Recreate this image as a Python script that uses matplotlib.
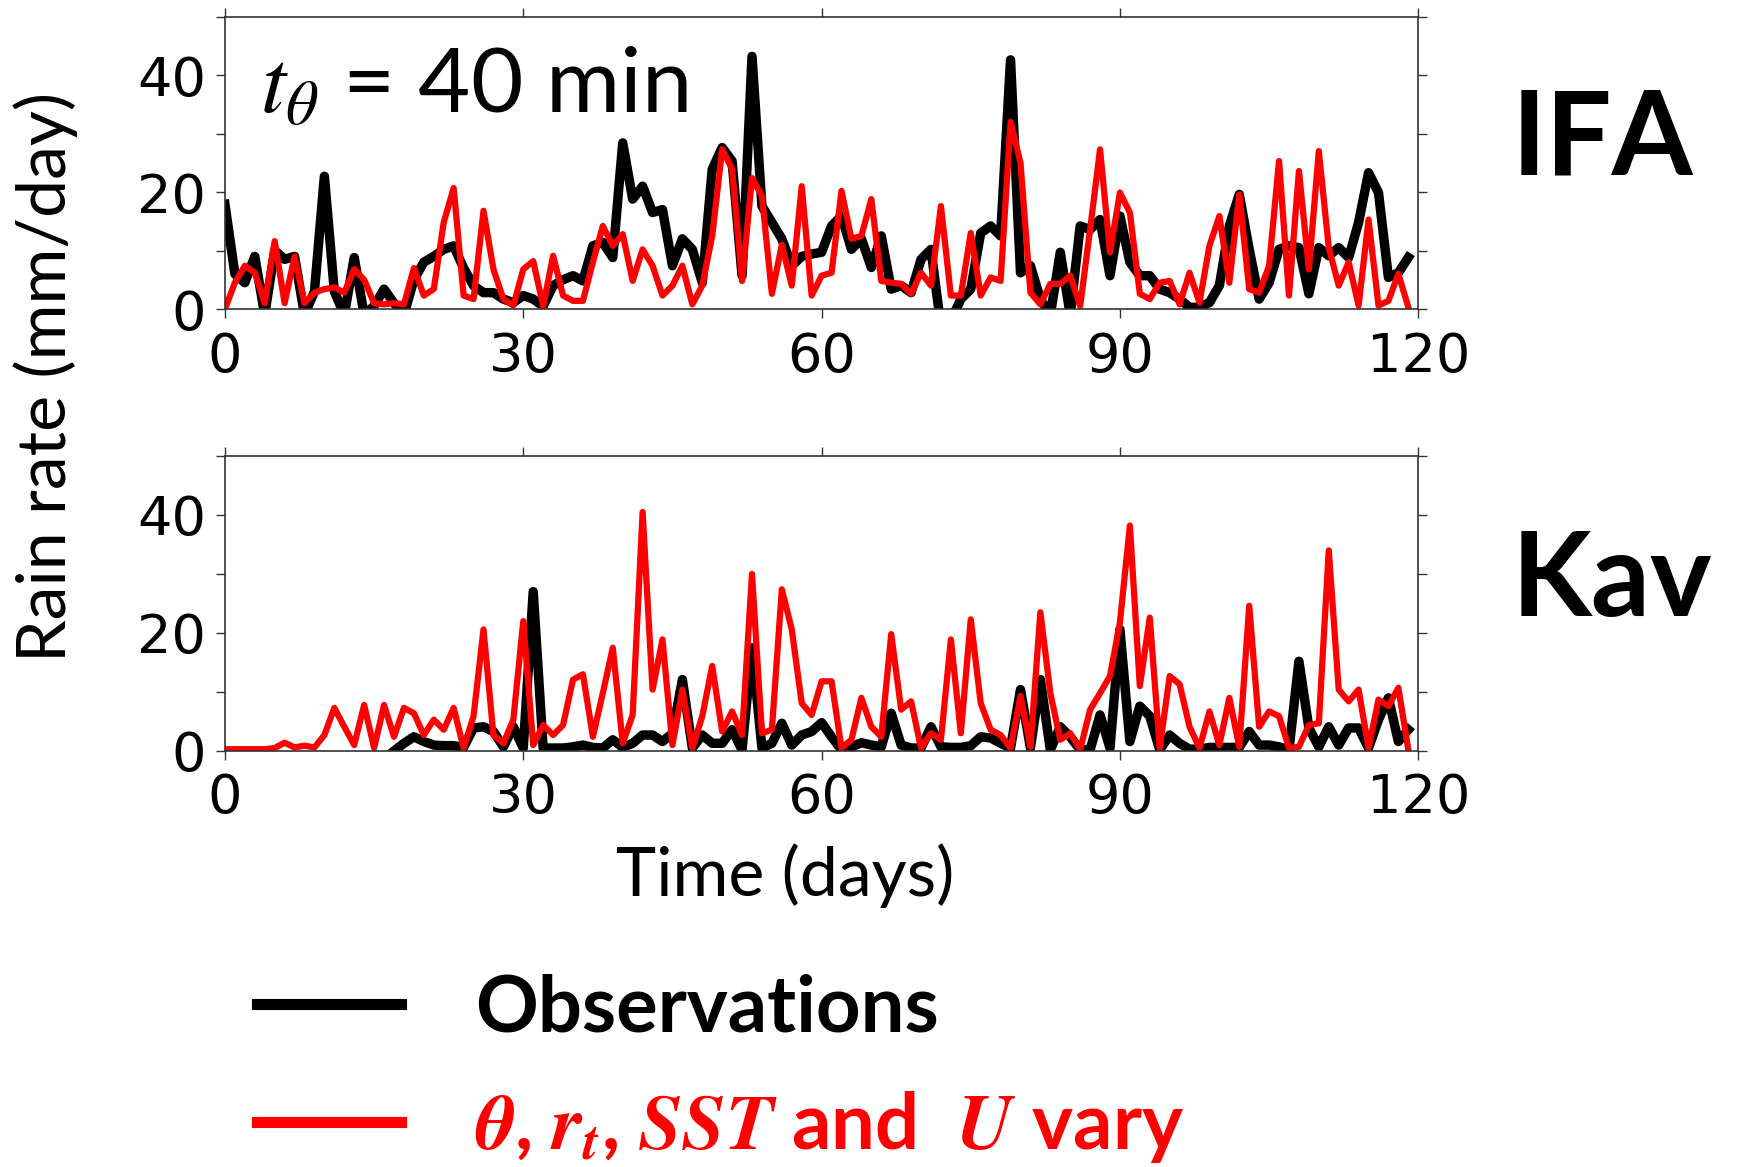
import numpy as np
import matplotlib
matplotlib.use("Agg")
import matplotlib.pyplot as plt
from matplotlib.ticker import MultipleLocator
from matplotlib.lines import Line2D

plt.rcParams['mathtext.fontset'] = 'stix'

# daily rain rate (mm/day), days 0..119
days = np.arange(120)

ifa_obs = [17.9, 6, 4.5, 9, -1, 10, 8.5, 9, -1, 3,
           22.7, 3, -1, 8.8, -1, 0.5, 3.4, 1, -1, 5,
           8, 9, 10.2, 10.8, 7, 4, 2.8, 2.8, 1.7, 1.1,
           2.3, 1.7, 0.5, 4, 5, 5.7, 4.8, 10.8, 11.4, 8.8,
           28.4, 18.8, 21, 16.5, 17, 7.4, 12, 10.2, 4.5, 23.9,
           27.6, 25.3, 5.7, 43.2, 17.6, 14.8, 12, 7.4, 9, 9.4,
           9.7, 14.2, 15.9, 10.2, 12, 7.1, 12.5, 3.4, 4, 2.8,
           8.5, 10.2, -3, -2, 1.7, 3.4, 13, 14.2, 12.5, 42.6,
           6.2, 7.4, 1.7, -1, 9.7, -1, 14.2, 13.6, 15.3, 5.7,
           15.9, 8, 5.7, 5.7, 3.4, 2.8, 1.7, 0.3, 0.3, 1.1,
           4, 14.2, 19.6, 10.2, 1.7, 4.5, 10.2, 10.8, 10.5, 2.6,
           10.5, 9.1, 10.5, 8.8, 14.8, 23.3, 19.9, 5.4, 6.2, 8.8]

ifa_model = [0, 4.5, 7.4, 6.2, 1, 11.6, 1, 9, 1, 2.8,
             3.4, 3.7, 2.8, 6.8, 5, 1, 0.8, 1, 0.8, 7,
             2.3, 3.4, 14.8, 20.7, 2.3, 1.7, 16.8, 6.8, 1.7, 0.6,
             6.8, 8.2, 0.5, 9.1, 2.3, 1.4, 1.4, 8, 14.2, 10.8,
             12.8, 4.8, 10.2, 7.4, 2.3, 4, 7.4, 0.8, 4, 12.5,
             27.3, 23.9, 4.8, 22.4, 19.3, 2.6, 11, 4, 21, 2.3,
             5.7, 6.2, 20.2, 12, 12.5, 18.8, 4.8, 4.5, 4.3, 2.6,
             6.2, 4, 17.6, 2.3, 2.3, 13, 2.3, 5.4, 4.8, 32,
             25, 2.8, 0.8, 4.3, 4.3, 5.7, 0.5, 13.6, 27.3, 9.7,
             19.9, 16.5, 2.6, 1.7, 4.5, 4.8, 0.8, 6.2, 1.1, 10.8,
             15.9, 4.5, 19.6, 3.4, 2.8, 7.4, 25.3, 2.3, 23.6, 6.8,
             27, 10.5, 4, 8, 0.6, 15.3, 0.6, 1.4, 6, 0.3]

kav_obs = [np.nan] * 17 + [
           0, 1.3, 2.4,
           1.6, 1, 0.9, 0.9, 0.6, 3.9, 4.1, 3.3, 0.7, 4.1,
           0.5, 27, 0.5, 0.5, 0.5, 0.7, 1, 0.6, 0.5, 1.9,
           0.6, 1.3, 2.7, 2.7, 1.6, 3, 12.1, 0.5, 2.7, 1.3,
           1.3, 3.6, 0.2, 17.5, 0.5, 1.3, 4.7, 1, 2.7, 3.3,
           4.8, 2.4, 0.2, 0.7, 1.4, 1, 0.7, 6.4, 1, 0.5,
           0.5, 4.1, 0.7, 0.6, 0.6, 0.9, 2.4, 2.2, 1.3, 0.5,
           10.4, 0.5, 12.1, 0.2, 4.1, 2.4, 0.2, 0.2, 6.1, 0.5,
           20.6, 1.6, 7.6, 5.9, 0.2, 2.7, 1.3, 0.3, 0.3, 0.6,
           0.6, 0.6, 0.6, 3.3, 1, 1, 0.7, 0.2, 15.2, 3.9,
           0.7, 4.1, 1, 3.9, 3.9, 0.5, 5.3, 9, 1.6, 3.6]

kav_model = [0.3, 0.3, 0.3, 0.3, 0.3, 0.5, 1.4, 0.6, 0.9, 0.6,
             2.7, 7.3, 4.1, 1, 7.8, 0.5, 7.8, 2.4, 7.3, 6.4,
             2.7, 5.3, 3.6, 7.3, 0.5, 5.9, 20.6, 2.7, 1.3, 5.3,
             22, 1, 4.4, 2.7, 4.4, 12.1, 13, 2.4, 9.8, 17.5,
             1.3, 6.1, 40.5, 10.4, 18.9, 1, 10.4, 0.5, 5.9, 14.4,
             3.3, 6.7, 2.7, 30, 3, 3.6, 27.4, 20.6, 8.1, 6.1,
             11.8, 11.8, 0.5, 1.9, 9, 4.1, 2.4, 19.8, 7, 8.4,
             0.5, 3, 1.9, 18.9, 3, 22.3, 8.1, 3.6, 2.7, 0.5,
             9.3, 0.7, 23.5, 9.8, 1.9, 3, 0.2, 7, 9.8, 12.7,
             21.8, 38.2, 11, 22.6, 0.5, 12.7, 11.3, 4.1, 0.5, 6.7,
             1, 9, 0.7, 24.6, 4.1, 6.7, 5.9, 0.5, 0.7, 4.4,
             4.7, 34, 10.4, 8.4, 10.4, 0.5, 8.7, 7.6, 10.7, 0.2]

panels = [("IFA", ifa_obs, ifa_model), ("Kav", kav_obs, kav_model)]

fig = plt.figure(figsize=(17.37, 11.67), dpi=100)
ax_top = fig.add_axes([0.1295, 0.7352, 0.687, 0.2506])
ax_bot = fig.add_axes([0.1295, 0.3565, 0.687, 0.2528])

for ax, (name, obs, model) in zip([ax_top, ax_bot], panels):
    ax.plot(days, obs, color='black', lw=6.8, solid_joinstyle='round')
    ax.plot(days, model, color='red', lw=4.5, solid_joinstyle='round')
    ax.set_xlim(0, 120)
    ax.set_ylim(0, 50)
    ax.xaxis.set_major_locator(MultipleLocator(30))
    ax.yaxis.set_major_locator(MultipleLocator(20))
    ax.yaxis.set_minor_locator(MultipleLocator(10))
    ax.tick_params(which='both', direction='out', length=6.5, width=1,
                   top=True, right=True, color='#333333')
    ax.tick_params(axis='x', labelsize=39, pad=9)
    ax.tick_params(axis='y', labelsize=39, pad=7)
    for sp in ax.spines.values():
        sp.set_linewidth(1.2)
        sp.set_color('#333333')
    fig.text(0.8705, 0.879 if name == "IFA" else 0.501, name,
             family='Lato', weight='bold', fontsize=84,
             ha='left', va='center')

ax_top.text(0.029, 0.670, r"$t_\theta$ = 40 min", transform=ax_top.transAxes,
            family='Lato', fontsize=65, ha='left', va='baseline')

fig.text(0.0265, 0.677, "Rain rate (mm/day)", family='Lato', fontsize=49,
         rotation=90, ha='center', va='center')
fig.text(0.452, 0.250, "Time (days)", family='Lato', fontsize=49,
         ha='center', va='center')

handles = [Line2D([], [], color='black', lw=8),
           Line2D([], [], color='red', lw=8)]
labels = ["Observations",
          r"$\mathbfit{\theta}$, $\mathbfit{r_t}$, $\mathbfit{SST}$ and  $\mathbfit{U}$ vary"]
fig.legend(handles, labels, loc='upper left', bbox_to_anchor=(0.148, 0.166),
           frameon=False, borderpad=0, borderaxespad=0,
           handlelength=1.85, handletextpad=0.95, labelspacing=0.56,
           prop={'family': 'Lato', 'weight': 'bold', 'size': 56},
           labelcolor=['black', 'red'])

fig.savefig("out.png", dpi=100)
